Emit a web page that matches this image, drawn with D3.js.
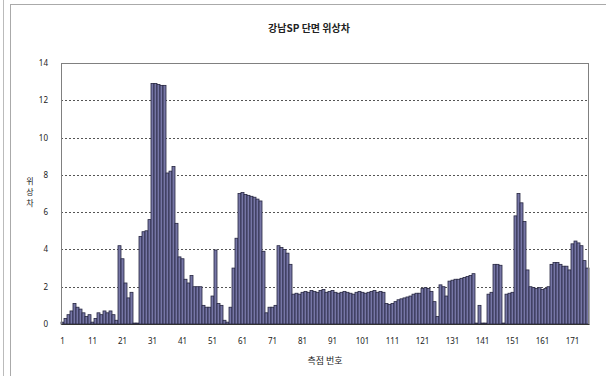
<!DOCTYPE html>
<html><head><meta charset="utf-8">
<script src="https://cdn.jsdelivr.net/npm/d3@7"></script>
<style>
html,body{margin:0;padding:0;background:#fff;}
svg{display:block;}
text{font-family:"Noto Sans CJK KR","Noto Sans",sans-serif;fill:#222;}
</style></head>
<body>
<svg id="c" width="606" height="376"></svg>
<script>
const title = "강남SP 단면 위상차";
const xTitle = "측점 번호";
const yTitle = ["위","상","차"];
const yTicks = [0,2,4,6,8,10,12,14];
const xTickLabels = [1,11,21,31,41,51,61,71,81,91,101,111,121,131,141,151,161,171];
const values = [
 0.1,0.3,0.5,0.7,1.1,0.9,0.8,0.6,0.4,0.5,
 0.1,0.3,0.6,0.5,0.7,0.6,0.7,0.5,0.2,4.2,
 3.5,2.2,1.4,1.7,0.05,0.05,4.7,4.95,5.0,5.6,
 12.9,12.9,12.85,12.8,12.8,8.1,8.2,8.45,5.4,3.6,
 3.5,2.4,2.2,2.6,2.0,2.0,2.0,1.0,0.9,0.9,
 1.5,3.97,1.1,1.0,0.2,0.1,0.9,3.0,4.6,7.0,
 7.05,6.95,6.9,6.85,6.8,6.7,6.6,3.9,0.6,0.9,
 0.9,1.0,4.2,4.1,4.0,3.8,3.2,
 1.6,1.65,1.6,1.7,1.75,1.7,1.8,1.75,1.7,1.8,1.85,1.7,1.75,1.8,1.7,1.65,
 1.7,1.75,1.7,1.65,1.6,1.7,1.75,1.7,1.65,1.7,1.75,1.8,1.7,1.75,1.7,
 1.1,1.05,1.1,1.2,1.3,1.35,1.4,1.45,1.5,1.6,1.65,1.65,
 1.9,1.95,1.9,1.75,1.2,0.4,2.1,2.0,1.5,2.3,
 2.35,2.4,2.4,2.45,2.5,2.55,2.6,2.7,0.05,1.0,
 0.05,0.05,1.6,1.7,3.2,3.2,3.15,0.05,1.6,1.65,
 1.7,5.8,7.0,6.5,5.5,2.9,2.0,1.95,1.9,1.95,
 1.85,1.9,2.0,3.2,3.3,3.3,3.2,3.1,3.1,2.9,
 4.3,4.45,4.35,4.2,3.4,3.0
];
const cats = values.map((v,i)=>i+1);

const svg = d3.select("#c");
const L=61,R=589,T=63,B=324;
const x = d3.scaleBand().domain(cats).range([L,R]).padding(0);
const y = d3.scaleLinear().domain([0,14]).range([B,T]);

// outer frame lines
svg.append("line").attr("x1",3.5).attr("x2",3.5).attr("y1",0).attr("y2",376).attr("stroke","#bbb");
svg.append("line").attr("x1",10.5).attr("x2",10.5).attr("y1",4).attr("y2",376).attr("stroke","#aaa");
svg.append("line").attr("x1",10).attr("x2",606).attr("y1",4.5).attr("y2",4.5).attr("stroke","#aaa");

// gridlines
svg.append("g").selectAll("line").data(yTicks.filter(t=>t>0&&t<14)).join("line")
  .attr("x1",L).attr("x2",R).attr("y1",d=>Math.round(y(d))+0.5).attr("y2",d=>Math.round(y(d))+0.5)
  .attr("stroke","#555").attr("stroke-dasharray","2,2");

// bars
svg.append("g").selectAll("rect").data(values).join("rect")
  .attr("x",(d,i)=>x(cats[i]))
  .attr("width",x.bandwidth())
  .attr("y",d=>y(d))
  .attr("height",d=>B-y(d))
  .attr("fill","#7676a6")
  .attr("stroke","#262640")
  .attr("stroke-width",0.8);

// plot border
svg.append("rect").attr("x",L+0.5).attr("y",T+0.5).attr("width",R-L-1).attr("height",B-T)
  .attr("fill","none").attr("stroke","#808080");

// axes
const yAxis = d3.axisLeft(y).tickValues(yTicks).tickSize(0).tickPadding(13);
const gy = svg.append("g").attr("transform",`translate(${L},0)`).call(yAxis);
gy.select(".domain").remove();
gy.selectAll("text").style("font-size","8px").style("font-family","'Noto Sans',sans-serif");

const xAxis = d3.axisBottom(x).tickValues(xTickLabels).tickSize(0).tickPadding(14);
const gx = svg.append("g").attr("transform",`translate(0,${B})`).call(xAxis);
gx.select(".domain").attr("stroke","#333");
gx.selectAll("text").style("font-size","8px").style("font-family","'Noto Sans',sans-serif");

// titles
svg.append("text").attr("x",309).attr("y",32).attr("text-anchor","middle")
  .style("font-size","10px").style("font-weight","bold").text(title);
svg.append("text").attr("x",(L+R)/2).attr("y",364).attr("text-anchor","middle")
  .style("font-size","9px").text(xTitle);
yTitle.forEach((c,i)=>svg.append("text").attr("text-anchor","middle").style("font-size","8px")
  .attr("x",30).attr("y",184+i*11).text(c));
</script>
</body></html>
